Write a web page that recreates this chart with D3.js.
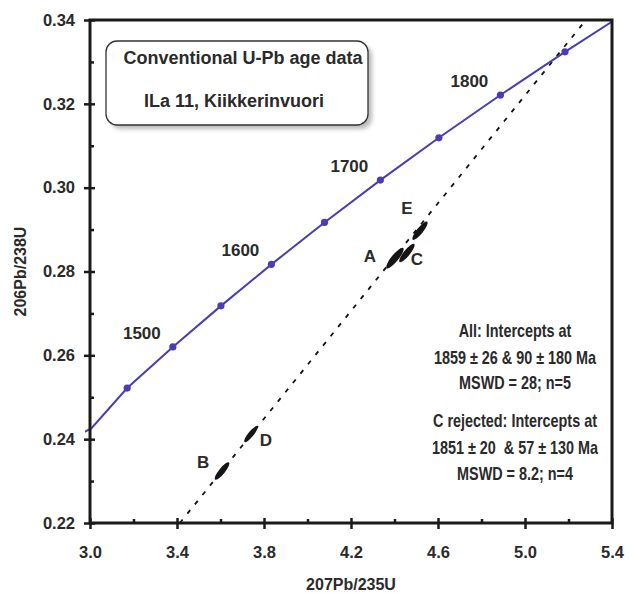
<html>
<head>
<script src="https://cdn.jsdelivr.net/npm/d3@7"></script>
<style>
  body { margin:0; background:#fff; }
  text { font-family: "Liberation Sans", Arial, sans-serif; font-weight:bold; fill:#2a2a2a; }
</style>
</head>
<body>
<script>
// axis ticks
let xTicks = [3.0, 3.4, 3.8, 4.2, 4.6, 5.0, 5.4];
let xMinor = [3.2, 3.6, 4.0, 4.4, 4.8, 5.2];
let yTicks = [0.22, 0.24, 0.26, 0.28, 0.30, 0.32, 0.34];
let yMinor = [0.23, 0.25, 0.27, 0.29, 0.31, 0.33];

// concordia (Ma)
let concAge = [1390, 1400, 1450, 1500, 1550, 1600, 1650, 1700, 1750, 1800, 1850, 1900];
let concX   = [2.931, 3.007, 3.171, 3.381, 3.602, 3.834, 4.078, 4.335, 4.604, 4.887, 5.184, 5.496];
let concY   = [0.2406, 0.2426, 0.2522, 0.2620, 0.2718, 0.2817, 0.2917, 0.3018, 0.3119, 0.3221, 0.3324, 0.3428];
let dotAges = [1450, 1500, 1550, 1600, 1650, 1700, 1750, 1800, 1850];
let labelAges = [1500, 1600, 1700, 1800];

// discordia end points
let discX = [3.413, 5.28];
let discY = [0.22, 0.34];

// analyses (error ellipses)
let fracName = ["A", "B", "C", "D", "E"];
let fracX    = [4.402, 3.607, 4.457, 3.740, 4.517];
let fracY    = [0.2832, 0.2324, 0.2844, 0.2412, 0.2897];
let fracSX   = [0.040, 0.034, 0.0354, 0.031, 0.0354];
let fracSY   = [0.00246, 0.00210, 0.00220, 0.00191, 0.00220];
let fracRho  = [0.86, 0.86, 0.86, 0.86, 0.86];
let fracLabelOff = [[-25, -2], [-19, -9], [10, 6], [15, 6], [-13, -23]];

let boxLines = ["Conventional U-Pb age data", "ILa 11, Kiikkerinvuori"];
let noteLines = ["All: Intercepts at", "1859 \u00b1 26 & 90 \u00b1 180 Ma", "MSWD = 28; n=5",
                 "C rejected: Intercepts at", "1851 \u00b1 20  & 57 \u00b1 130 Ma", "MSWD = 8.2; n=4"];

let W = 637, H = 593;
let plot = {left:90, right:612, top:20, bottom:523};
let blue = "#4a3cb4";

let svg = d3.select("body").append("svg").attr("width", W).attr("height", H);

let xScale = d3.scaleLinear().domain([3.0, 5.4]).range([plot.left, plot.right]);
let yScale = d3.scaleLinear().domain([0.22, 0.34]).range([plot.bottom, plot.top]);

let defs = svg.append("defs");
defs.append("clipPath").attr("id", "clip").append("rect")
    .attr("x", plot.left - 5).attr("y", plot.top).attr("width", plot.right - plot.left + 5).attr("height", plot.bottom - plot.top);
let sh = defs.append("filter").attr("id", "shadow").attr("x", "-10%").attr("y", "-10%").attr("width", "130%").attr("height", "140%");
sh.append("feGaussianBlur").attr("stdDeviation", 2);

//text box
let box = svg.append("g");
box.append("rect").attr("x", 110).attr("y", 45).attr("width", 262).attr("height", 84).attr("rx", 11)
    .attr("fill", "#bbb").attr("filter", "url(#shadow)");
box.append("rect").attr("x", 106).attr("y", 41).attr("width", 262).attr("height", 84).attr("rx", 11)
    .attr("fill", "#fff").attr("stroke", "#333").attr("stroke-width", 1.3);
box.selectAll("text.box").data(boxLines).enter().append("text")
    .attr("x", function(d,i){ return i == 0 ? 243 : 234; })
    .attr("y", function(d,i){ return i == 0 ? 64 : 107; })
    .attr("text-anchor", "middle").style("font-size", "18px")
    .text(function(d){ return d; });

let chart = svg.append("g").attr("clip-path", "url(#clip)");

//discordia
chart.append("line")
    .attr("x1", xScale(discX[0])).attr("y1", yScale(discY[0]))
    .attr("x2", xScale(discX[1])).attr("y2", yScale(discY[1]))
    .attr("stroke", "#111").attr("stroke-width", 1.8).attr("stroke-dasharray", "4.5,7.5");

//concordia
let concPts = concAge.map(function(a,i){ return [concX[i], concY[i]]; });
chart.append("path")
    .datum(concPts)
    .attr("d", d3.line().x(function(d){ return xScale(d[0]); }).y(function(d){ return yScale(d[1]); }))
    .attr("fill", "none").attr("stroke", blue).attr("stroke-width", 2);

chart.selectAll("circle").data(dotAges).enter().append("circle")
    .attr("cx", function(d){ return xScale(concX[concAge.indexOf(d)]); })
    .attr("cy", function(d){ return yScale(concY[concAge.indexOf(d)]); })
    .attr("r", 3.6).attr("fill", blue);

svg.selectAll("text.age").data(labelAges).enter().append("text")
    .attr("x", function(d){ return xScale(concX[concAge.indexOf(d)]) - 31; })
    .attr("y", function(d){ return yScale(concY[concAge.indexOf(d)]) - 8; })
    .attr("text-anchor", "middle").style("font-size", "17px")
    .text(function(d){ return d; });

//error ellipses
let kx = xScale(1) - xScale(0), ky = yScale(0) - yScale(1);
fracName.forEach(function(n,i){
    let sx = fracSX[i] * kx, sy = fracSY[i] * ky;
    let a = sx*sx, c = sy*sy, b = -fracRho[i]*sx*sy;
    let m = (a + c) / 2, r = Math.sqrt((a - c)*(a - c)/4 + b*b);
    let theta = 0.5 * Math.atan2(2*b, a - c) * 180 / Math.PI;
    chart.append("ellipse")
        .attr("transform", "translate(" + xScale(fracX[i]) + "," + yScale(fracY[i]) + ") rotate(" + theta + ")")
        .attr("rx", Math.sqrt(m + r)).attr("ry", Math.sqrt(Math.max(m - r, 0.5)))
        .attr("fill", "#151515");
    svg.append("text")
        .attr("x", xScale(fracX[i]) + fracLabelOff[i][0])
        .attr("y", yScale(fracY[i]) + fracLabelOff[i][1] + 6)
        .attr("text-anchor", "middle").style("font-size", "17px")
        .text(n);
});

//notes
svg.selectAll("text.note").data(noteLines).enter().append("text")
    .attr("transform", function(d,i){
        let y = [337, 364, 389, 427, 454, 480][i];
        return "translate(515," + y + ") scale(0.8,1)"; })
    .attr("text-anchor", "middle").style("font-size", "18px").style("white-space", "pre")
    .text(function(d){ return d; });

//frame
svg.append("rect").attr("x", plot.left).attr("y", plot.top)
    .attr("width", plot.right - plot.left).attr("height", plot.bottom - plot.top)
    .attr("fill", "none").attr("stroke", "#1a1a1a").attr("stroke-width", 3);

//y-axis
let yAxisG = svg.append("g").attr("transform", "translate(" + plot.left + ",0)");
yAxisG.call(d3.axisLeft(yScale).tickValues(yTicks).tickSize(6).tickFormat(d3.format(".2f")).tickPadding(9));
yAxisG.append("g").call(d3.axisLeft(yScale).tickValues(yTicks).tickSize(-5).tickFormat(""));
yAxisG.append("g").call(d3.axisLeft(yScale).tickValues(yMinor).tickSize(-4).tickFormat(""));

//x-axis
let xAxisG = svg.append("g").attr("transform", "translate(0," + plot.bottom + ")");
xAxisG.call(d3.axisBottom(xScale).tickValues(xTicks).tickSize(6).tickFormat(d3.format(".1f")).tickPadding(17));
xAxisG.append("g").call(d3.axisBottom(xScale).tickValues(xTicks).tickSize(-5).tickFormat(""));
xAxisG.append("g").call(d3.axisBottom(xScale).tickValues(xMinor).tickSize(-4).tickFormat(""));

svg.selectAll(".domain").remove();
svg.selectAll(".tick line").attr("stroke", "#1a1a1a").attr("stroke-width", 2.5);
svg.selectAll(".tick text").style("font-size", "16.5px").attr("fill", "#2a2a2a")
    .style("font-family", "'Liberation Sans', Arial, sans-serif").style("font-weight", "bold");

//titles
svg.append("text").attr("transform", "translate(26," + ((plot.top + plot.bottom)/2) + ") rotate(-90)")
    .attr("text-anchor", "middle").style("font-size", "16px").text("206Pb/238U");
svg.append("text").attr("x", (plot.left + plot.right)/2).attr("y", 590)
    .attr("text-anchor", "middle").style("font-size", "16px").text("207Pb/235U");
</script>
</body>
</html>
